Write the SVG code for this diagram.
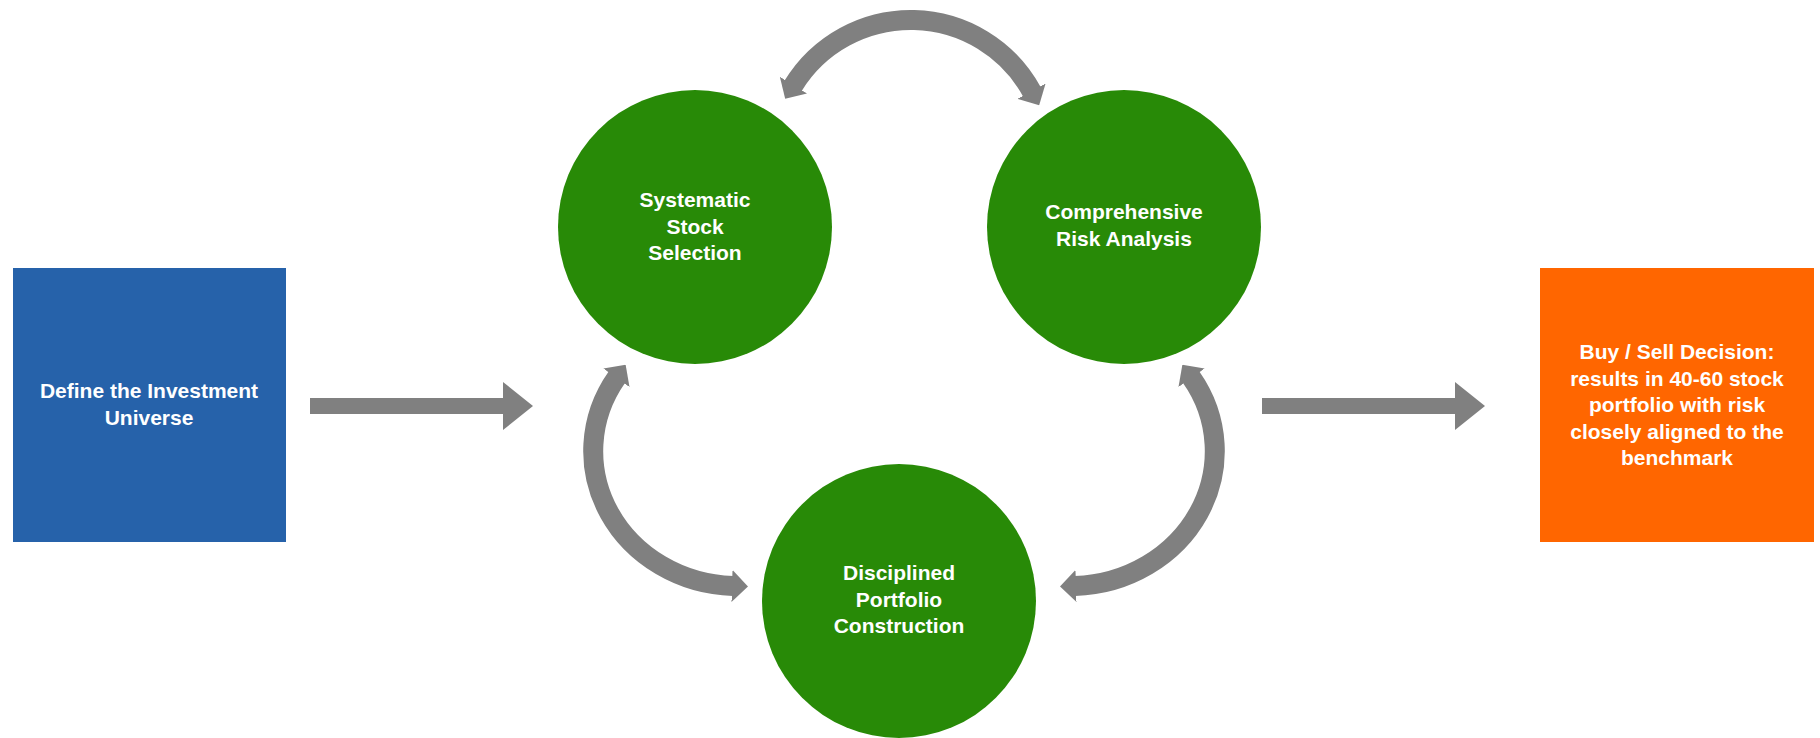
<svg xmlns="http://www.w3.org/2000/svg" width="1820" height="738" viewBox="0 0 1820 738">
  <style>
    .lbl { font-family: "Liberation Sans", Arial, sans-serif; font-weight: bold; font-size: 21px; fill: #ffffff; text-anchor: middle; }
    .circ { fill: #288A07; }
    .arc { fill: none; stroke: #808080; stroke-width: 20; marker-start: url(#headStart); marker-end: url(#headEnd); }
    .block { fill: #808080; }
  </style>
  <defs>
    <marker id="headEnd" markerUnits="userSpaceOnUse" viewBox="0 0 16 32" markerWidth="16" markerHeight="32" refX="1" refY="16" orient="auto">
      <path d="M0,0 L16,16 L0,32 Z" fill="#808080"/>
    </marker>
    <marker id="headStart" markerUnits="userSpaceOnUse" viewBox="0 0 16 32" markerWidth="16" markerHeight="32" refX="15" refY="16" orient="auto">
      <path d="M16,0 L0,16 L16,32 Z" fill="#808080"/>
    </marker>
  </defs>
  <rect width="1820" height="738" fill="#ffffff"/>

  <g id="connectors">
    <polygon class="block" points="310,398 503,398 503,382 533,406 503,430 503,414 310,414"/>
    <polygon class="block" points="1262,398 1455,398 1455,382 1485,406 1455,430 1455,414 1262,414"/>
    <path class="arc" d="M793,86 A138,138 0 0 1 1032,92"/>
    <path class="arc" d="M617,377 A145,135 0 0 0 733,586"/>
    <path class="arc" d="M1191,377 A145,135 0 0 1 1075,586"/>
  </g>

  <g id="universe">
    <rect x="13" y="268" width="273" height="274" fill="#2662AA"/>
    <text class="lbl" x="149" y="398">Define the Investment</text>
    <text class="lbl" x="149" y="425">Universe</text>
  </g>

  <g id="stock-selection">
    <circle class="circ" cx="695" cy="227" r="137"/>
    <text class="lbl" x="695" y="207">Systematic</text>
    <text class="lbl" x="695" y="233.5">Stock</text>
    <text class="lbl" x="695" y="260">Selection</text>
  </g>

  <g id="risk-analysis">
    <circle class="circ" cx="1124" cy="227" r="137"/>
    <text class="lbl" x="1124" y="219">Comprehensive</text>
    <text class="lbl" x="1124" y="246">Risk Analysis</text>
  </g>

  <g id="portfolio-construction">
    <circle class="circ" cx="899" cy="601" r="137"/>
    <text class="lbl" x="899" y="580">Disciplined</text>
    <text class="lbl" x="899" y="607">Portfolio</text>
    <text class="lbl" x="899" y="633">Construction</text>
  </g>

  <g id="decision">
    <rect x="1540" y="268" width="274" height="274" fill="#FF6600"/>
    <text class="lbl" x="1677" y="359">Buy / Sell Decision:</text>
    <text class="lbl" x="1677" y="385.5">results in 40-60 stock</text>
    <text class="lbl" x="1677" y="412">portfolio with risk</text>
    <text class="lbl" x="1677" y="438.5">closely aligned to the</text>
    <text class="lbl" x="1677" y="465">benchmark</text>
  </g>
</svg>
